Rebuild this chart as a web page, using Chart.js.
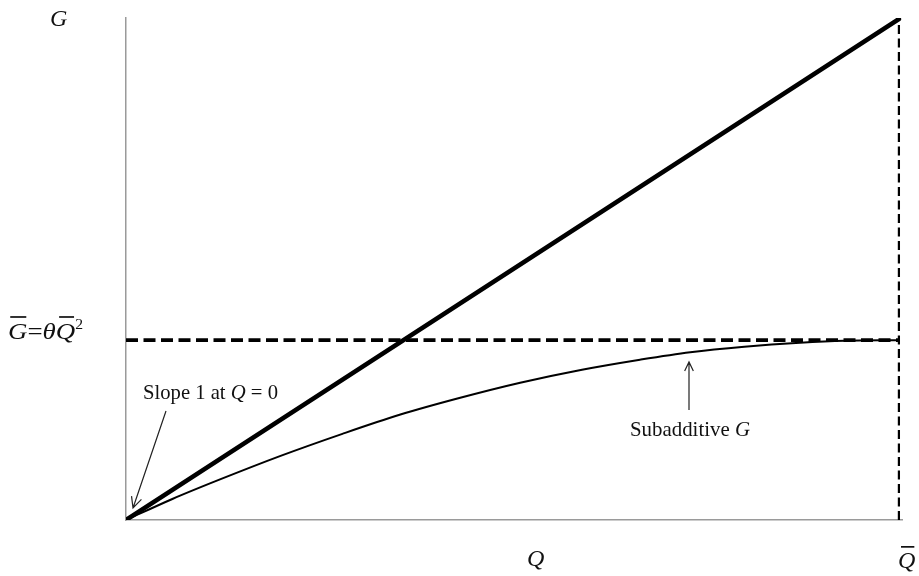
<!DOCTYPE html>
<html>
<head>
<meta charset="utf-8">
<script src="https://cdn.jsdelivr.net/npm/chart.js@4.4.1/dist/chart.umd.min.js"></script>
<style>
  html, body { margin: 0; padding: 0; background: #fff; }
  #wrap { width: 919px; height: 576px; position: relative; }
</style>
</head>
<body>
<div id="wrap"><canvas id="c"></canvas></div>
<script>
// ---- data (Q as a share of Q-bar, G in units of the diagonal's top) ----
const diagonalQ = [0, 1];
const diagonalG = [0, 1];
const capQ = [0, 1];
const capG = [0.359, 0.359];           // G-bar = theta * Q-bar^2
const qBarLineQ = [1, 1];
const qBarLineG = [0, 1];
const subQ = [0, 0.06, 0.12, 0.2, 0.28, 0.354, 0.43, 0.51, 0.59, 0.665, 0.73, 0.8, 0.872, 0.93, 1];
const subG = [0, 0.042, 0.080, 0.128, 0.172, 0.210, 0.243, 0.274, 0.300, 0.320, 0.335, 0.346, 0.354, 0.358, 0.359];

const pts = (xs, ys) => xs.map((x, i) => ({ x: x, y: ys[i] }));

const SERIF = '"Liberation Serif", "Times New Roman", serif';

function fitText(ctx, parts, x, y, targetW) {
  let w = 0;
  parts.forEach(p => { ctx.font = p.font; p.w = ctx.measureText(p.t).width; w += p.w; });
  const sx = targetW ? targetW / w : 1;
  ctx.save();
  ctx.translate(x, y);
  ctx.scale(sx, 1);
  let cx = 0;
  parts.forEach(p => {
    ctx.font = p.font;
    ctx.fillText(p.t, cx, p.dy || 0);
    if (p.bar) {
      ctx.fillRect(cx + p.bar[0], p.bar[1], p.w - p.bar[0] - p.bar[2], 1.7);
    }
    cx += p.w;
  });
  ctx.restore();
}

function arrow(ctx, x1, y1, x2, y2, head) {
  ctx.beginPath();
  ctx.moveTo(x1, y1);
  ctx.lineTo(x2, y2);
  const a = Math.atan2(y2 - y1, x2 - x1);
  ctx.moveTo(x2 - head * Math.cos(a - 0.45), y2 - head * Math.sin(a - 0.45));
  ctx.lineTo(x2, y2);
  ctx.lineTo(x2 - head * Math.cos(a + 0.45), y2 - head * Math.sin(a + 0.45));
  ctx.stroke();
}

const annotations = {
  id: 'annotations',
  afterDraw(chart) {
    const ctx = chart.ctx;
    const xs = chart.scales.x, ys = chart.scales.y;
    ctx.save();
    ctx.fillStyle = '#111';
    ctx.strokeStyle = '#222';
    ctx.lineWidth = 1.2;
    ctx.textBaseline = 'alphabetic';

    // axis titles
    fitText(ctx, [{ t: 'G', font: 'italic 24px ' + SERIF }], 50, 26);
    fitText(ctx, [{ t: 'Q', font: 'italic 24px ' + SERIF }], 527, 566);
    fitText(ctx, [{ t: 'Q', font: 'italic 24px ' + SERIF, bar: [3, -22, 1] }], 898, 568);

    // G-bar = theta Q-bar^2
    const gy = ys.getPixelForValue(capG[0]);
    fitText(ctx, [
      { t: 'G', font: 'italic 24px ' + SERIF, bar: [2, -23, 1] },
      { t: '=', font: '24px ' + SERIF },
      { t: '\u03B8', font: 'italic 24px ' + SERIF },
      { t: 'Q', font: 'italic 24px ' + SERIF, bar: [3, -23, 1] },
      { t: '2', font: '14px ' + SERIF, dy: -10 }
    ], 8, gy - 1, 75);

    // Slope 1 at Q = 0
    fitText(ctx, [
      { t: 'Slope 1 at ', font: '21px ' + SERIF },
      { t: 'Q', font: 'italic 21px ' + SERIF },
      { t: ' = 0', font: '21px ' + SERIF }
    ], 143, 399, 135);
    arrow(ctx, 166, 411, xs.getPixelForValue(0) + 7, ys.getPixelForValue(0) - 12, 12);

    // Subadditive G
    fitText(ctx, [
      { t: 'Subadditive ', font: '21px ' + SERIF },
      { t: 'G', font: 'italic 21px ' + SERIF }
    ], 630, 436, 120);
    arrow(ctx, 689, 410, 689, 362, 10);

    ctx.restore();
  }
};

new Chart(document.getElementById('c'), {
  type: 'line',
  data: {
    datasets: [
      { data: pts(diagonalQ, diagonalG), borderColor: '#000', borderWidth: 4.5, pointRadius: 0, borderCapStyle: 'round' },
      { data: pts(capQ, capG), borderColor: '#000', borderWidth: 3.8, borderDash: [12, 5.5], pointRadius: 0 },
      { data: pts(qBarLineQ, qBarLineG), borderColor: '#000', borderWidth: 2.2, borderDash: [9, 4.5], pointRadius: 0 },
      { data: pts(subQ, subG), borderColor: '#000', borderWidth: 2, pointRadius: 0, cubicInterpolationMode: 'monotone' }
    ]
  },
  options: {
    responsive: true,
    maintainAspectRatio: false,
    animation: false,
    events: [],
    layout: { padding: { left: 126, right: 17, top: 18, bottom: 56 } },
    plugins: { legend: { display: false }, tooltip: { enabled: false } },
    scales: {
      x: {
        type: 'linear', min: 0, max: 1.004,
        grid: { display: false },
        border: { display: true, color: '#9a9a9a', width: 1.5 },
        ticks: { display: false },
        afterFit(s) { s.height = 0; }
      },
      y: {
        type: 'linear', min: 0, max: 1.002,
        grid: { display: false },
        border: { display: true, color: '#9a9a9a', width: 1.5 },
        ticks: { display: false },
        afterFit(s) { s.width = 0; }
      }
    }
  },
  plugins: [annotations]
});
</script>
</body>
</html>
